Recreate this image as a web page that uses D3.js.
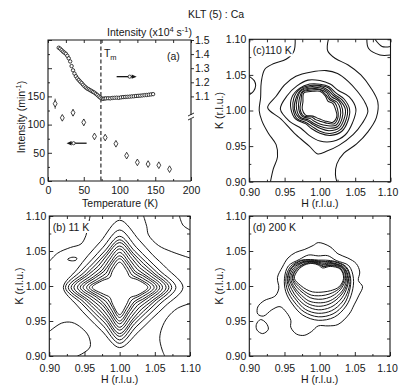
<!DOCTYPE html>
<html><head><meta charset="utf-8">
<script src="https://cdn.jsdelivr.net/npm/d3@7"></script>
<style>
body{margin:0;background:#fff}
text{font-family:"Liberation Sans",Arial,sans-serif;font-size:10.5px;fill:#161616}
</style>
</head><body>
<svg id="fig" width="399" height="385"></svg>
<script>
// ---------------- DATA ----------------
// Panel (a): right-axis series (open circles), Intensity x10^4 s^-1
const tempsR = [15,17,19,21,23,25,27,29,31,33,35,37,39,41,43,45,47,49,51,53,55,57,59,61,63,65,67,69,71,73,75,77,79,81,
                84,87,90,93,96,99,102,105,108,111,114,117,120,123,126,129,132,135,138,141,144,147];
const intensR = [1.445,1.438,1.428,1.418,1.410,1.402,1.388,1.370,1.348,1.315,1.285,1.262,1.243,1.228,1.216,1.205,1.195,1.183,1.172,1.163,
                 1.155,1.150,1.144,1.138,1.132,1.126,1.118,1.110,1.100,1.092,1.085,1.083,1.085,1.086,
                 1.087,1.086,1.089,1.090,1.091,1.090,1.093,1.095,1.096,1.097,1.098,1.100,1.101,1.103,1.104,1.105,1.107,1.109,1.110,1.112,1.114,1.116];
// Panel (a): left-axis series (diamonds with error bars), min^-1
const tempsL  = [10,20,35,50,65,80,95,110,125,140,155,170];
const intensL = [137,112,121,104,79,77,66,45,33,30,28,21];
const errL    = [9,5,6,6,5,4,4,3,3,2,2,2];
const tmTemp = 74;
const xTicksA = [0,50,100,150,200];
const xMinorA = [25,75,125,175];
const yTicksA = [0,50,100,150,200,250];
const yMinorA = [25,75,125,175,225];
const yTicksR = [1.1,1.2,1.3,1.4,1.5];
const arrowRight = {t0:96, t1:124, v:1.24};   // points to right axis
const arrowLeft  = {t0:54, t1:26,  v:67};     // points to left axis

// Contour panels: tick values (r.l.u.)
const rluTicks = [0.90,0.95,1.00,1.05,1.10];
const rluMinor = [0.925,0.975,1.025,1.075];
// directions used for ring radii (degrees, 0 = +H, 90 = +K)
const ringAngles = [0,22.5,45,67.5,90,112.5,135,157.5,180,202.5,225,247.5,270,292.5,315,337.5];

// (b) 11 K  — ring radii in 0.001 r.l.u. around centre
const centerB = [1.000,0.998];
const ringsB = [
 [90,72,66,73,96,71,64,66,80,66,62,67,86,69,64,70],
 [80,62,57,62,82,62,56,60,77,59,55,60,80,61,57,62],
 [74,57,52,56,73,56,51,55,73,55,51,55,75,56,52,57],
 [70,53,48,52,68,52,47,51,69,51,47,51,70,52,48,53],
 [66,50,44,49,64,49,43,48,65,48,43,48,66,49,44,50],
 [61,46,40,45,59,45,39,44,60,44,39,44,61,45,40,46],
 [57,42,36,41,55,41,35,40,56,40,35,40,57,41,36,42],
 [53,39,32,37,50,37,32,37,52,36,32,37,52,37,32,39],
 [49,35,29,34,45,34,28,33,47,33,28,33,48,34,29,35],
 [44,31,25,30,41,30,24,29,43,29,24,29,43,30,25,31],
 [40,28,21,26,36,26,20,26,39,25,20,26,39,26,21,28]
];
const linesB = [
 [[0.900,1.035],[0.912,1.047],[0.930,1.055],[0.945,1.060],[0.952,1.072],[0.955,1.085],[0.958,1.100]],
 [[1.034,1.100],[1.0385,1.085],[1.041,1.073],[1.055,1.058],[1.074,1.049],[1.100,1.040]],
 [[1.085,1.100],[1.090,1.087],[1.100,1.080]],
 [[0.900,0.935],[0.9176,0.947],[0.932,0.948],[0.946,0.940],[0.956,0.928],[0.958,0.913],[0.948,0.904],[0.940,0.900]],
 [[1.100,0.975],[1.082,0.968],[1.068,0.955],[1.060,0.940],[1.057,0.925],[1.060,0.910],[1.064,0.900]]
];
const loopsB = [
 [[0.926,1.038],[0.932,1.041],[0.939,1.040],[0.938,1.037],[0.931,1.036]]
];

// (c) 110 K
const centerC = [1.000,1.002];
const ringsC = [
 [51,45,37,38,40,44,46,50,56,46,38,40,45,49,51,50],
 [42,37,32,34,35,38,41,43,41,37,29,30,34,40,44,43],
 [39,34,29,32,33,36,40,40,38,35,27,27,31,37,41,40],
 [36,31,27,29,32,34,38,37,36,32,24,24,27,33,38,37],
 [32,29,24,27,30,32,37,35,33,30,22,22,24,29,35,34],
 [29,26,21,25,28,31,35,32,30,27,19,19,21,25,32,31],
 [25,23,19,22,27,29,34,29,28,25,16,16,17,21,29,28],
 [22,20,16,20,25,27,32,26,25,22,14,13,14,18,26,26]
];
const linesC = [
 [[0.965,1.100],[0.963,1.083],[0.952,1.072],[0.935,1.066],[0.922,1.058],[0.917,1.040],[0.916,1.018],[0.914,1.000],[0.918,0.985],[0.927,0.968],[0.938,0.952],[0.940,0.935],[0.934,0.918],[0.930,0.900]],
 [[1.012,1.100],[1.011,1.084],[1.022,1.073],[1.040,1.064],[1.058,1.050],[1.072,1.032],[1.082,1.012],[1.080,0.990],[1.068,0.970],[1.052,0.953],[1.034,0.940],[1.024,0.925],[1.022,0.910],[1.024,0.900]],
 [[1.0665,1.100],[1.069,1.087],[1.085,1.078],[1.100,1.078]],
 [[1.078,1.100],[1.088,1.090],[1.100,1.090]],
 [[0.900,1.048],[0.907,1.042],[0.909,1.035],[0.906,1.027],[0.900,1.022]]
];
const loopsC = [
 [[0.926,1.004],[0.938,1.020],[0.950,1.036],[0.966,1.048],[0.988,1.054],[1.009,1.056],[1.025,1.052],[1.040,1.041],[1.053,1.027],[1.064,1.011],[1.068,0.999],[1.060,0.982],[1.047,0.966],[1.027,0.951],[1.010,0.943],[0.997,0.939],[0.985,0.950],[0.966,0.966],[0.945,0.988]]
];

// (d) 200 K
const centerD = [0.998,1.011];
const ringsD = [
 [50,47,36,35,32,36,38,46,48,50,52,57,60,60,56,52],
 [46,43,34,28,26,29,36,43,46,47,48,52,55,55,52,48],
 [45,42,33,26,25,28,35,41,44,44,44,48,50,50,48,46],
 [43,40,31,25,24,27,33,40,43,41,41,43,45,45,44,43],
 [42,39,30,23,23,26,32,38,41,38,37,39,40,40,40,41],
 [40,38,29,21,22,26,31,36,39,36,34,35,35,36,37,39],
 [39,37,27,19,21,25,29,34,37,33,30,30,30,31,33,36],
 [37,35,26,18,20,24,28,33,36,30,27,26,25,26,29,34],
 [36,34,24,16,19,23,27,31,34,27,23,21,20,21,25,32]
];
const linesD = [];
const loopsD = [
 [[0.998,1.062],[1.0147,1.0562],[1.026,1.046],[1.040,1.040],[1.052,1.032],[1.057,1.020],[1.055,1.008],[1.061,0.999],[1.056,0.987],[1.049,0.973],[1.042,0.960],[1.026,0.945],[1.012,0.943],[0.998,0.943],[0.9886,0.935],[0.978,0.9295],[0.967,0.9314],[0.959,0.941],[0.959,0.951],[0.953,0.962],[0.9436,0.9705],[0.932,0.966],[0.920,0.957],[0.912,0.960],[0.912,0.970],[0.921,0.979],[0.934,0.984],[0.938,0.987],[0.942,0.997],[0.940,1.012],[0.947,1.027],[0.955,1.040],[0.966,1.048],[0.978,1.052],[0.991,1.058]],
 [[0.910,0.945],[0.916,0.952],[0.924,0.947],[0.927,0.938],[0.919,0.932],[0.911,0.937]]
];

// ---------------- DRAW ----------------
const INK = "#161616";
const LW = 1.1;
const svg = d3.select("#fig");
const fmt2 = d3.format(".2f");

function styleAxis(g){
  g.select(".domain").remove();
  g.attr("font-size",null).attr("font-family",null).style("color",INK);
  g.selectAll(".tick line").attr("stroke-width",0.9);
}

// title
svg.append("text").attr("x",216).attr("y",18).attr("text-anchor","middle").text("KLT (5) : Ca");

// ===== Panel (a) =====
const ax  = d3.scaleLinear([0,200],[48,191]);
const ayL = d3.scaleLinear([0,250],[181,40]);
const ayR = d3.scaleLinear([1.1,1.5],[ayL(150),40]);
const ga = svg.append("g");

ga.append("g").attr("transform",`translate(0,${ayL(0)})`)
  .call(d3.axisBottom(ax).tickValues(xTicksA).tickSize(-4).tickPadding(6).tickFormat(d3.format("d"))).call(styleAxis);
ga.append("g").attr("transform",`translate(0,${ayL(0)})`)
  .call(d3.axisBottom(ax).tickValues(xMinorA).tickSize(-2).tickFormat("")).call(styleAxis);
ga.append("g").attr("transform",`translate(0,${ayL(250)})`)
  .call(d3.axisTop(ax).tickValues(xTicksA.concat(xMinorA)).tickSize(-3).tickFormat("")).call(styleAxis);
ga.append("g").attr("transform",`translate(${ax(0)},0)`)
  .call(d3.axisLeft(ayL).tickValues(yTicksA).tickSize(-4).tickPadding(3).tickFormat(d=>d<=150?d:"")).call(styleAxis);
ga.append("g").attr("transform",`translate(${ax(0)},0)`)
  .call(d3.axisLeft(ayL).tickValues(yMinorA).tickSize(-2).tickFormat("")).call(styleAxis);
ga.append("g").attr("transform",`translate(${ax(200)},0)`)
  .call(d3.axisRight(ayR).tickValues(yTicksR).tickSize(3).tickPadding(1).tickFormat(d3.format(".1f"))).call(styleAxis);

// frame with axis break on right
const fx0=ax(0), fx1=ax(200), fy0=ayL(250), fy1=ayL(0);
ga.append("path").attr("fill","none").attr("stroke",INK).attr("stroke-width",LW)
  .attr("d",`M${fx1},${fy1}L${fx0},${fy1}L${fx0},${fy0}L${fx1},${fy0}L${fx1},${fy0+75}M${fx1},${fy0+79}L${fx1},${fy1}`);
ga.append("path").attr("fill","none").attr("stroke",INK).attr("stroke-width",0.9)
  .attr("d",`M${fx1-3},${fy0+76}L${fx1+3},${fy0+73}M${fx1-3},${fy0+80}L${fx1+3},${fy0+77}`);

// Tm dashed line
ga.append("line").attr("x1",ax(tmTemp)).attr("x2",ax(tmTemp)).attr("y1",fy0).attr("y2",fy1)
  .attr("stroke",INK).attr("stroke-width",1.1).attr("stroke-dasharray","4,2.5");
const tm = ga.append("text").attr("x",ax(tmTemp)+3).attr("y",57);
tm.append("tspan").text("T");
tm.append("tspan").attr("dy",3).attr("font-size","7.5px").text("m");
ga.append("text").attr("x",167).attr("y",60).text("(a)");

// left series: error bars + diamonds
const gl = ga.append("g");
tempsL.forEach((t,i)=>{
  gl.append("line").attr("x1",ax(t)).attr("x2",ax(t))
    .attr("y1",ayL(intensL[i]-errL[i])).attr("y2",ayL(intensL[i]+errL[i]))
    .attr("stroke",INK).attr("stroke-width",0.8);
  gl.append("path").attr("d",d3.symbol(d3.symbolDiamond,13)())
    .attr("transform",`translate(${ax(t)},${ayL(intensL[i])})`)
    .attr("fill","#fff").attr("stroke",INK).attr("stroke-width",0.8);
});
// right series: open circles
ga.append("g").selectAll("circle").data(tempsR).join("circle")
  .attr("cx",t=>ax(t)).attr("cy",(t,i)=>ayR(intensR[i])).attr("r",1.7)
  .attr("fill","#fff").attr("stroke",INK).attr("stroke-width",0.85);

// arrows
function arrow(x0,x1,y){
  const dir = Math.sign(x1-x0);
  ga.append("line").attr("x1",x0).attr("x2",x1-dir*4).attr("y1",y).attr("y2",y).attr("stroke",INK).attr("stroke-width",1.3);
  ga.append("path").attr("d",`M${x1},${y}L${x1-dir*5},${y-2.2}L${x1-dir*5},${y+2.2}Z`).attr("fill",INK);
  ga.append("circle").attr("cx",x1-dir*7).attr("cy",y).attr("r",1.6).attr("fill","#fff").attr("stroke",INK).attr("stroke-width",0.8);
}
arrow(ax(arrowRight.t0),ax(arrowRight.t1),ayR(arrowRight.v));
arrow(ax(arrowLeft.t0),ax(arrowLeft.t1),ayL(arrowLeft.v));

// axis titles (a)
const it = svg.append("text").attr("x",192).attr("y",36).attr("text-anchor","end");
it.append("tspan").text("Intensity (x10");
it.append("tspan").attr("dy",-4).attr("font-size","7.5px").text("4");
it.append("tspan").attr("dy",4).text(" s");
it.append("tspan").attr("dy",-4).attr("font-size","7.5px").text("-1");
it.append("tspan").attr("dy",4).text(")");
const il = svg.append("text").attr("transform","translate(25,117) rotate(-90)").attr("text-anchor","middle");
il.append("tspan").text("Intensity (min");
il.append("tspan").attr("dy",-4).attr("font-size","7.5px").text("-1");
il.append("tspan").attr("dy",4).text(")");
svg.append("text").attr("x",120).attr("y",207).attr("text-anchor","middle").text("Temperature (K)");

// ===== Contour panels =====
function polar(center, radii){
  return radii.map((r,i)=>{
    const a = ringAngles[i]*Math.PI/180;
    return [center[0]+r/1000*Math.cos(a), center[1]+r/1000*Math.sin(a)];
  });
}
function contourPanel(p){
  const x = d3.scaleLinear([0.9,1.1],[p.l,p.r]);
  const y = d3.scaleLinear([0.9,1.1],[p.b,p.t]);
  const g = svg.append("g");
  const cid = "clip"+p.id;
  svg.append("clipPath").attr("id",cid).append("rect")
    .attr("x",p.l).attr("y",p.t).attr("width",p.r-p.l).attr("height",p.b-p.t);
  const cg = g.append("g").attr("clip-path",`url(#${cid})`)
    .attr("fill","none").attr("stroke",INK).attr("stroke-width",p.lw).attr("stroke-linejoin","round");
  const lo = d3.line().x(d=>x(d[0])).y(d=>y(d[1])).curve(d3.curveCatmullRom.alpha(0.5));
  const lc = d3.line().x(d=>x(d[0])).y(d=>y(d[1])).curve(d3.curveCatmullRomClosed.alpha(0.5));
  p.rings.forEach(r=>cg.append("path").attr("d",lc(polar(p.center,r))));
  p.loops.forEach(l=>cg.append("path").attr("d",lc(l)));
  p.lines.forEach(l=>cg.append("path").attr("d",lo(l)));

  // axes
  const bottom = g.append("g").attr("transform",`translate(0,${p.b})`)
    .call(d3.axisBottom(x).tickValues(rluTicks).tickSize(-4).tickPadding(p.padB).tickFormat(fmt2)).call(styleAxis);
  if (p.clampLast) bottom.selectAll(".tick text").filter(d=>d>1.09).attr("dx",-3);
  g.append("g").attr("transform",`translate(0,${p.b})`)
    .call(d3.axisBottom(x).tickValues(rluMinor).tickSize(-2).tickFormat("")).call(styleAxis);
  g.append("g").attr("transform",`translate(0,${p.t})`)
    .call(d3.axisTop(x).tickValues(rluTicks.concat(rluMinor)).tickSize(-3).tickFormat("")).call(styleAxis);
  g.append("g").attr("transform",`translate(${p.l},0)`)
    .call(d3.axisLeft(y).tickValues(rluTicks).tickSize(-4).tickPadding(3).tickFormat(fmt2)).call(styleAxis);
  g.append("g").attr("transform",`translate(${p.l},0)`)
    .call(d3.axisLeft(y).tickValues(rluMinor).tickSize(-2).tickFormat("")).call(styleAxis);
  g.append("g").attr("transform",`translate(${p.r},0)`)
    .call(d3.axisRight(y).tickValues(rluTicks.concat(rluMinor)).tickSize(-3).tickFormat("")).call(styleAxis);
  g.append("rect").attr("x",p.l).attr("y",p.t).attr("width",p.r-p.l).attr("height",p.b-p.t)
    .attr("fill","none").attr("stroke",INK).attr("stroke-width",LW);

  // label with white box
  const box = g.append("rect").attr("fill","#fff");
  const lab = g.append("text").attr("x",p.l+3.5).attr("y",p.t+p.labDy).text(p.label);
  const bb = lab.node().getBBox();
  box.attr("x",bb.x-1).attr("y",bb.y).attr("width",bb.width+2).attr("height",bb.height);

  // axis titles
  g.append("text").attr("x",(p.l+p.r)/2).attr("y",p.hTitleY).attr("text-anchor","middle").text("H (r.l.u.)");
  g.append("text").attr("transform",`translate(${p.kTitleX},${(p.t+p.b)/2}) rotate(-90)`)
    .attr("text-anchor","middle").attr("dy","0.35em").text("K (r.l.u.)");
}

contourPanel({id:"c", l:249.3, r:390.5, t:39.3, b:181.7, padB:7, labDy:15, label:"(c)110 K", lw:1.05,
  hTitleY:207, kTitleX:219, center:centerC, rings:ringsC, loops:loopsC, lines:linesC, clampLast:true});
contourPanel({id:"b", l:49.3, r:190, t:216, b:356, padB:8.5, labDy:15, label:"(b) 11 K", lw:1.0,
  hTitleY:383, kTitleX:19, center:centerB, rings:ringsB, loops:loopsB, lines:linesB, clampLast:false});
contourPanel({id:"d", l:249.3, r:390, t:216, b:356, padB:8.5, labDy:15, label:"(d) 200 K", lw:1.0,
  hTitleY:383, kTitleX:219, center:centerD, rings:ringsD, loops:loopsD, lines:linesD, clampLast:true});
</script>
</body></html>
